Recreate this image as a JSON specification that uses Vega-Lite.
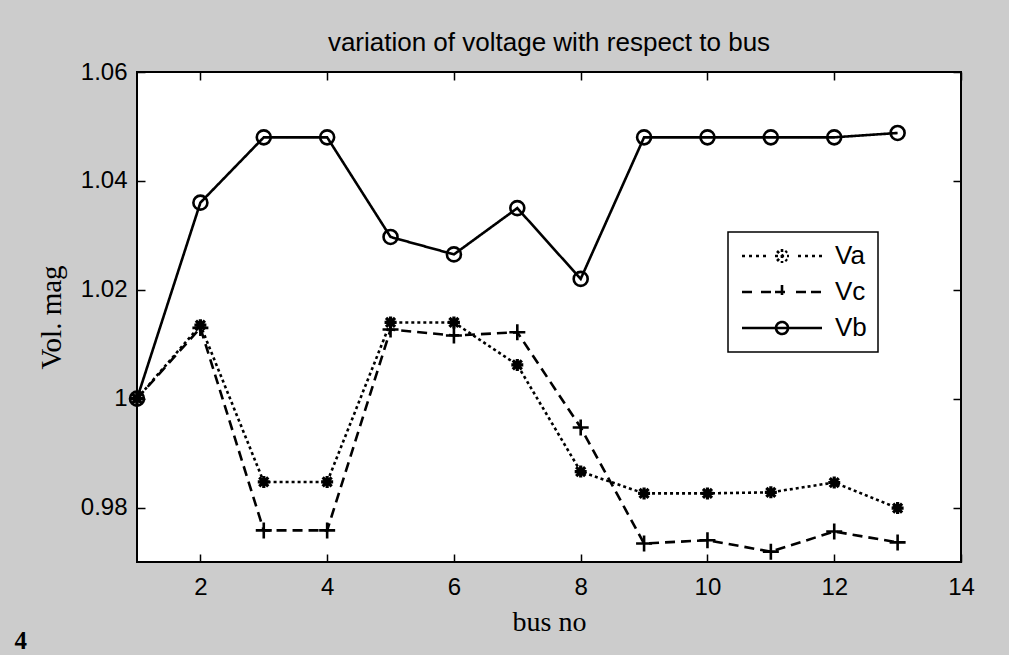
{
  "$schema": "https://vega.github.io/schema/vega-lite/v6.json",
  "width": 824,
  "height": 490,
  "autosize": {"type": "none"},
  "padding": {"left": 137, "top": 72, "right": 48, "bottom": 93},
  "background": "#cccccc",
  "title": {
    "text": "variation of voltage with respect to bus",
    "font": "Liberation Sans",
    "fontSize": 26,
    "fontWeight": "normal",
    "color": "black",
    "anchor": "middle",
    "baseline": "alphabetic",
    "offset": -17
  },
  "data": {
    "values": [
      {"bus": 1, "series": "Va", "v": 1.0},
      {"bus": 2, "series": "Va", "v": 1.0135},
      {"bus": 3, "series": "Va", "v": 0.9847},
      {"bus": 4, "series": "Va", "v": 0.9847},
      {"bus": 5, "series": "Va", "v": 1.014},
      {"bus": 6, "series": "Va", "v": 1.014},
      {"bus": 7, "series": "Va", "v": 1.0062},
      {"bus": 8, "series": "Va", "v": 0.9866},
      {"bus": 9, "series": "Va", "v": 0.9826},
      {"bus": 10, "series": "Va", "v": 0.9826},
      {"bus": 11, "series": "Va", "v": 0.9828},
      {"bus": 12, "series": "Va", "v": 0.9846},
      {"bus": 13, "series": "Va", "v": 0.9799},
      {"bus": 1, "series": "Vc", "v": 1.0},
      {"bus": 2, "series": "Vc", "v": 1.013},
      {"bus": 3, "series": "Vc", "v": 0.9758},
      {"bus": 4, "series": "Vc", "v": 0.9758},
      {"bus": 5, "series": "Vc", "v": 1.0127},
      {"bus": 6, "series": "Vc", "v": 1.0116},
      {"bus": 7, "series": "Vc", "v": 1.0122},
      {"bus": 8, "series": "Vc", "v": 0.9947},
      {"bus": 9, "series": "Vc", "v": 0.9734},
      {"bus": 10, "series": "Vc", "v": 0.974},
      {"bus": 11, "series": "Vc", "v": 0.9719},
      {"bus": 12, "series": "Vc", "v": 0.9756},
      {"bus": 13, "series": "Vc", "v": 0.9736},
      {"bus": 1, "series": "Vb", "v": 1.0},
      {"bus": 2, "series": "Vb", "v": 1.036},
      {"bus": 3, "series": "Vb", "v": 1.048},
      {"bus": 4, "series": "Vb", "v": 1.048},
      {"bus": 5, "series": "Vb", "v": 1.0297},
      {"bus": 6, "series": "Vb", "v": 1.0265},
      {"bus": 7, "series": "Vb", "v": 1.035},
      {"bus": 8, "series": "Vb", "v": 1.022},
      {"bus": 9, "series": "Vb", "v": 1.048},
      {"bus": 10, "series": "Vb", "v": 1.048},
      {"bus": 11, "series": "Vb", "v": 1.048},
      {"bus": 12, "series": "Vb", "v": 1.048},
      {"bus": 13, "series": "Vb", "v": 1.0488}
    ]
  },
  "layer": [
    {
      "mark": {"type": "line", "strokeWidth": 2.6, "strokeCap": "butt"},
      "encoding": {
        "x": {
          "field": "bus", "type": "quantitative",
          "scale": {"domain": [1, 14], "nice": false, "zero": false},
          "axis": {
            "orient": "bottom", "values": [2, 4, 6, 8, 10, 12, 14],
            "title": "bus no", "grid": false,
            "tickSize": -8, "tickColor": "black", "tickWidth": 1.5,
            "domain": false, "labelFlush": false, "labelOverlap": false,
            "labelPadding": 21, "labelFont": "Liberation Sans", "labelFontSize": 24, "labelColor": "black",
            "titleFont": "Liberation Serif", "titleFontSize": 28, "titleFontWeight": "normal", "titleColor": "black",
            "titlePadding": 9
          }
        },
        "y": {
          "field": "v", "type": "quantitative",
          "scale": {"domain": [0.97, 1.06], "nice": false, "zero": false},
          "axis": {
            "orient": "left", "values": [0.98, 1, 1.02, 1.04, 1.06],
            "labelExpr": "datum.value == 1 ? '1' : format(datum.value, '.2f')",
            "title": "Vol. mag", "grid": false,
            "tickSize": -8, "tickColor": "black", "tickWidth": 1.5,
            "domain": false, "labelFlush": false, "labelOverlap": false,
            "labelPadding": 18, "labelFont": "Liberation Sans", "labelFontSize": 24, "labelColor": "black",
            "titleFont": "Liberation Serif", "titleFontSize": 29, "titleFontWeight": "normal", "titleColor": "black",
            "titlePadding": 14
          }
        },
        "color": {
          "field": "series", "type": "nominal",
          "scale": {"domain": ["Va", "Vc", "Vb"], "range": ["black", "black", "black"]},
          "legend": {
            "title": null,
            "orient": "none",
            "legendX": 591,
            "legendY": 160,
            "fillColor": "white",
            "strokeColor": "black",
            "padding": 11,
            "rowPadding": 10,
            "symbolSize": 400,
            "symbolOffset": 30,
            "labelOffset": 40,
            "labelFont": "Liberation Sans",
            "labelFontSize": 26,
            "labelColor": "black",
            "encode": {
              "legend": {
                "update": {"strokeWidth": {"value": 1.5}}
              },
              "symbols": {
                "update": {
                  "shape": {"signal": "datum.value === 'Va' ? 'M-4,0L-3.7,0M-3.3,0L-3,0M-2.6,0L-2.3,0M-1.9,0L-1.6,0M-0.7,0L0.7,0M0,-0.7L0,0.7M-0.5,-0.5L0.5,0.5M-0.5,0.5L0.5,-0.5M1.6,0L1.9,0M2.3,0L2.6,0M3,0L3.3,0M3.7,0L4,0' : datum.value === 'Vc' ? 'M-4,0L-2.8,0M-2.1,0L-1.1,0M-0.7,0L0.7,0M0,-0.7L0,0.7M1.4,0L2.4,0M2.9,0L4,0' : 'M-4,0L4,0M0.6,0A0.6,0.6 0 1,1 -0.6,0A0.6,0.6 0 1,1 0.6,0'"},
                  "size": {"value": 400},
                  "fill": {"value": "transparent"},
                  "stroke": {"value": "black"},
                  "strokeWidth": {"value": 2.6},
                  "strokeDash": {"value": []}
                }
              }
            }
          }
        },
        "strokeDash": {
          "field": "series", "type": "nominal",
          "scale": {"domain": ["Va", "Vc", "Vb"], "range": [[3, 3], [10, 6], [1, 0]]},
          "legend": null
        }
      }
    },
    {
      "transform": [{"filter": "datum.series === 'Va'"}],
      "mark": {"type": "point", "filled": false, "color": "black", "strokeWidth": 3.2, "opacity": 1, "size": 144,
               "shape": "M-1,0L1,0M0,-1L0,1M-0.75,-0.75L0.75,0.75M-0.75,0.75L0.75,-0.75"},
      "encoding": {
        "x": {"field": "bus", "type": "quantitative", "axis": null},
        "y": {"field": "v", "type": "quantitative", "axis": null}
      }
    },
    {
      "transform": [{"filter": "datum.series === 'Vc'"}],
      "mark": {"type": "point", "filled": false, "color": "black", "strokeWidth": 2.6, "opacity": 1, "size": 256,
               "shape": "M-1,0L1,0M0,-1L0,1"},
      "encoding": {
        "x": {"field": "bus", "type": "quantitative", "axis": null},
        "y": {"field": "v", "type": "quantitative", "axis": null}
      }
    },
    {
      "transform": [{"filter": "datum.series === 'Vb'"}],
      "mark": {"type": "point", "filled": false, "color": "black", "strokeWidth": 2.6, "opacity": 1, "size": 196,
               "shape": "circle"},
      "encoding": {
        "x": {
          "field": "bus", "type": "quantitative",
          "axis": {
            "orient": "top", "values": [2, 4, 6, 8, 10, 12, 14],
            "labels": false, "domain": false, "grid": false,
            "tickSize": -8, "tickColor": "black", "tickWidth": 1.5,
            "title": "4", "titleX": -123, "titleY": 576, "titleAlign": "left", "titleAngle": 0,
            "titleBaseline": "alphabetic", "titleFont": "Liberation Serif", "titleFontSize": 25,
            "titleFontWeight": "bold", "titleColor": "black"
          }
        },
        "y": {
          "field": "v", "type": "quantitative",
          "axis": {
            "orient": "right", "values": [0.98, 1, 1.02, 1.04, 1.06],
            "labels": false, "domain": false, "grid": false,
            "tickSize": -8, "tickColor": "black", "tickWidth": 1.5,
            "title": null
          }
        }
      }
    }
  ],
  "resolve": {"axis": {"x": "independent", "y": "independent"}},
  "config": {
    "view": {"fill": "white", "stroke": "black", "strokeWidth": 2}
  }
}
